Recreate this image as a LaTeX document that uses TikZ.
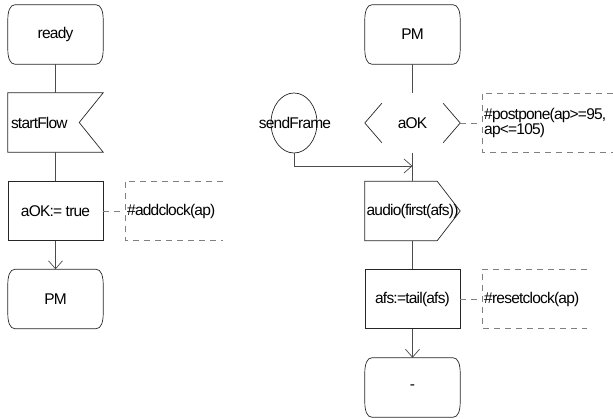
\documentclass[tikz,border=0pt]{standalone}
\usepackage{fontspec}
\setmainfont{Liberation Sans}[LetterSpace=-5]
\usetikzlibrary{arrows.meta,shapes.geometric}
\newcommand\drawstate[1]{%
  \draw[boxline] ([xshift=7pt]#1.north west) -- ([xshift=-7pt]#1.north east)
   .. controls ([xshift=-2pt]#1.north east) and ([yshift=-7pt]#1.north east) .. ([yshift=-15pt]#1.north east)
   -- ([yshift=15pt]#1.south east)
   .. controls ([yshift=7pt]#1.south east) and ([xshift=-2pt]#1.south east) .. ([xshift=-7pt]#1.south east)
   -- ([xshift=7pt]#1.south west)
   .. controls ([xshift=2pt]#1.south west) and ([yshift=7pt]#1.south west) .. ([yshift=15pt]#1.south west)
   -- ([yshift=-15pt]#1.north west)
   .. controls ([yshift=-7pt]#1.north west) and ([xshift=2pt]#1.north west) .. cycle;}
\tikzset{
  boxline/.style={draw=black!85, line width=0.7pt},
  conn/.style={draw=black!70, line width=0.7pt},
  arr/.style={conn, -{Straight Barb[length=8pt,width=14pt,line width=0.7pt]}},
  dashline/.style={draw=black!50, line width=0.7pt, dash pattern=on 6pt off 5pt},
  area/.style={minimum width=95pt, minimum height=59pt, inner sep=0pt},
  task/.style={area, boxline},
  comment/.style={inner xsep=2pt, inner ysep=0pt, minimum height=58pt, anchor=west, align=left},
}
\begin{document}
\begin{tikzpicture}[x=1pt, y=-1pt, font=\fontsize{15.5}{13}\selectfont]
\useasboundingbox (0,0) rectangle (613,419);
% left column
\node[area] (ready) at (55.5,34.5) {ready};
\drawstate{ready}
\node[area] (sf) at (55.5,122.5) {};
\draw[boxline] (sf.north west) -- (sf.north east) -- ([xshift=-24pt]sf.east) -- (sf.south east) -- (sf.south west) -- cycle;
\node[anchor=west, inner sep=0pt] (sftext) at ([xshift=3pt]sf.west) {startFlow};
\node[task] (aokset) at (55.5,211) {aOK:= true};
\node[area] (pm1) at (55.5,299) {PM};
\drawstate{pm1}
\node[comment, text width=94pt] (c1) at (125,211) {\#addclock(ap)};
\draw[dashline] (c1.north east) -- (c1.north west) -- (c1.south west) -- (c1.south east);
% right column
\node[area] (pm2) at (412.5,34.5) {PM};
\drawstate{pm2}
\node[area] (aok) at (412.5,123) {aOK};
\draw[boxline] ([xshift=17pt,yshift=-10pt]aok.north west) -- (aok.west) -- ([xshift=17pt,yshift=10pt]aok.south west);
\draw[boxline] ([xshift=-17pt,yshift=-10pt]aok.north east) -- (aok.east) -- ([xshift=-17pt,yshift=10pt]aok.south east);
\node[comment, text width=127pt] (c2) at (482,123) {\#postpone(ap>=95,\\ap<=105)};
\draw[dashline] (c2.north east) -- (c2.north west) -- (c2.south west) -- (c2.south east);
\node[ellipse, boxline, minimum width=46pt, minimum height=60pt, inner sep=0pt] (sfe) at (294,123) {};
\node[inner sep=0pt] (sendFrame) at (295,123) {sendFrame};
\coordinate (join) at (412.5,166);
\node[area] (audio) at (412.5,211) {audio(first(afs))};
\draw[boxline] (audio.north west) -- ([xshift=-23pt]audio.north east) -- (audio.east) -- ([xshift=-23pt]audio.south east) -- (audio.south west) -- cycle;
\node[task] (afs) at (412.5,299) {afs:=tail(afs)};
\node[comment, text width=101pt] (c3) at (482,299) {\#resetclock(ap)};
\draw[dashline] (c3.north east) -- (c3.north west) -- (c3.south west) -- (c3.south east);
\node[area] (dash) at (412.5,387.5) {-};
\drawstate{dash}
% connectors
\draw[conn] (ready) -- (sf);
\draw[conn] (sf) -- (aokset);
\draw[arr] (aokset) -- (pm1);
\draw[dashline] (aokset.east) -- (c1.west);
\draw[conn] (pm2) -- (aok);
\draw[conn] (aok) -- (audio);
\draw[arr] (sfe.south) |- (join);
\draw[dashline] (aok.east) -- (c2.west);
\draw[conn] (audio) -- (afs);
\draw[arr] (afs) -- (dash);
\draw[dashline] (afs.east) -- (c3.west);
\end{tikzpicture}
\end{document}
